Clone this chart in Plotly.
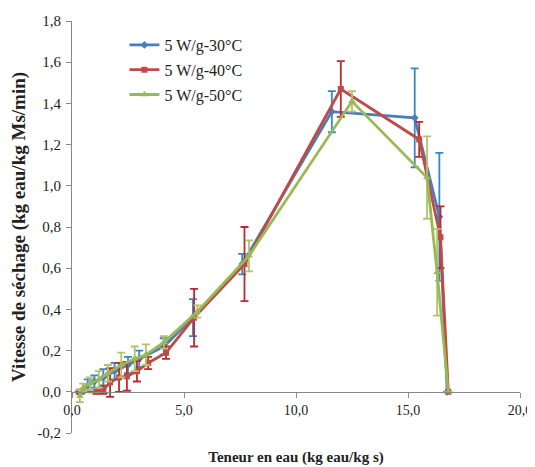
import plotly.graph_objects as go

# ---- data ----
names = ["5 W/g-30°C", "5 W/g-40°C", "5 W/g-50°C"]

x_30 = [0.4, 0.7, 1.0, 1.4, 1.9, 2.5, 3.0, 4.1, 5.4, 7.6, 11.6, 15.3, 16.4, 16.75]
y_30 = [0.0, 0.03, 0.05, 0.07, 0.10, 0.13, 0.16, 0.22, 0.36, 0.62, 1.36, 1.33, 0.85, 0.0]
e_30 = [0.01, 0.03, 0.03, 0.04, 0.04, 0.04, 0.04, 0.04, 0.09, 0.05, 0.10, 0.24, 0.31, 0.0]

x_40 = [0.3, 1.1, 1.4, 1.7, 2.1, 2.45, 2.9, 3.4, 4.2, 5.45, 7.7, 12.0, 15.5, 16.45, 16.8]
y_40 = [0.0, 0.0, 0.01, 0.045, 0.07, 0.075, 0.10, 0.14, 0.19, 0.36, 0.62, 1.47, 1.225, 0.75, 0.0]
e_40 = [0.0, 0.01, 0.02, 0.07, 0.07, 0.07, 0.05, 0.03, 0.03, 0.14, 0.18, 0.135, 0.085, 0.15, 0.0]

x_50 = [0.35, 0.5, 0.8, 1.2, 1.6, 2.2, 2.8, 3.3, 4.1, 5.6, 7.9, 12.5, 15.85, 16.3, 16.8]
y_50 = [-0.02, 0.02, 0.04, 0.06, 0.09, 0.13, 0.16, 0.18, 0.24, 0.39, 0.66, 1.41, 1.04, 0.58, 0.0]
e_50 = [0.03, 0.02, 0.03, 0.04, 0.04, 0.06, 0.06, 0.05, 0.03, 0.03, 0.075, 0.05, 0.2, 0.21, 0.0]

x_tickvals = [0, 5, 10, 15, 20]
x_ticktext = ["0,0", "5,0", "10,0", "15,0", "20,0"]
y_tickvals = [-0.2, 0.0, 0.2, 0.4, 0.6, 0.8, 1.0, 1.2, 1.4, 1.6, 1.8]
y_ticktext = ["-0,2", "0,0", "0,2", "0,4", "0,6", "0,8", "1,0", "1,2", "1,4", "1,6", "1,8"]

x_title = "Teneur en eau (kg eau/kg s)"
y_title = "Vitesse de séchage (kg eau/kg Ms/min)"

FONT = "Times New Roman, Liberation Serif, DejaVu Serif, serif"

series = [
    (x_30, y_30, e_30, "#4A7EBB", "#3A87C8", "diamond", 6),
    (x_40, y_40, e_40, "#BE4B48", "#C0282E", "square", 6),
    (x_50, y_50, e_50, "#98B954", "#B3C36B", "triangle-up", 7),
]

fig = go.Figure()
for i, (xs, ys, es, col, ecol, sym, msize) in enumerate(series):
    fig.add_trace(go.Scatter(
        x=xs, y=ys, name=names[i], mode="lines+markers",
        legendgroup=f"g{i}",
        line=dict(color=col, width=2.8),
        marker=dict(color=col, symbol=sym, size=msize),
        error_y=dict(type="data", array=es, visible=True, color=ecol,
                     thickness=1.8, width=4),
    ))

# page body adds an 8px offset; margins compensate for it
fig.update_layout(
    width=535, height=467,
    margin=dict(l=64, r=23, t=13, b=42, autoexpand=False),
    paper_bgcolor="white", plot_bgcolor="white",
    separators=", ",
    font=dict(family=FONT, size=15, color="#222"),
    showlegend=True,
    legend=dict(x=0.117, y=0.983, xanchor="left", yanchor="top",
                bgcolor="rgba(0,0,0,0)", font=dict(size=16, color="#222", family=FONT),
                tracegroupgap=1),
    xaxis=dict(range=[0, 20], tickvals=x_tickvals, ticktext=x_ticktext,
               showgrid=False, zeroline=False, showline=True, automargin=False,
               linecolor="#888", linewidth=1, ticks="outside",
               ticklen=5, tickcolor="#888", anchor="free", position=0.1,
               tickfont=dict(size=14, family=FONT), ticklabelstandoff=0,
               title=dict(text=x_title, font=dict(size=15, family=FONT, weight="bold"),
                          standoff=34)),
    yaxis=dict(range=[-0.2, 1.8], tickvals=y_tickvals, ticktext=y_ticktext,
               showgrid=False, zeroline=False, showline=True, automargin=False,
               linecolor="#888", linewidth=1, ticks="outside",
               ticklen=5, tickcolor="#888", domain=[0, 1],
               tickfont=dict(size=15, family=FONT), ticklabelstandoff=2,
               title=dict(text=y_title, font=dict(size=19, family=FONT, weight="bold"),
                          standoff=7)),
)

fig.write_html("out.html")
